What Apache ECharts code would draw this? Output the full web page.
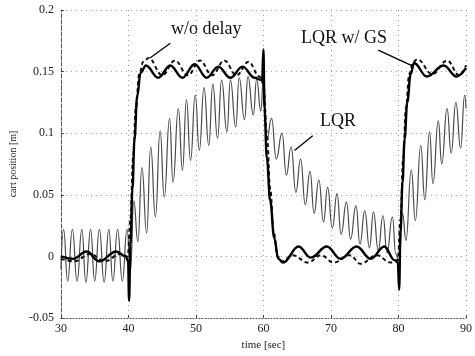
<!DOCTYPE html>
<html><head><meta charset="utf-8">
<script src="https://cdn.jsdelivr.net/npm/echarts@6/dist/echarts.min.js"></script>
<style>html,body{margin:0;padding:0;background:#fff}#c{width:475px;height:356px}</style>
</head><body><div id="c"></div>
<script>
// ---- data ----
const lqrT = [30.0,30.4,31.0,31.7,32.4,33.1,33.7,34.4,35.0,35.7,36.4,37.1,37.7,38.4,39.1,39.8,
  40.3,40.8,41.4,42.0,42.7,43.3,44.0,44.7,45.3,46.1,46.6,47.4,48.0,48.6,49.2,49.9,50.5,51.2,51.9,52.5,53.2,53.8,54.6,55.1,55.9,56.4,57.2,57.7,58.5,59.0,59.6,60.0,
  60.5,61.2,61.9,62.75,63.4,64.1,64.8,65.5,66.2,66.9,67.5,68.2,68.9,69.5,70.2,70.9,71.5,72.3,72.9,73.7,74.3,75.0,75.7,76.3,77.0,77.7,78.3,79.1,79.6,
  80.1,80.6,81.1,81.9,82.5,83.3,83.9,84.6,85.1,85.9,86.4,87.2,87.8,88.5,89.2,89.8,90.0];
const lqrV = [-0.010,0.022,-0.020,0.022,-0.020,0.022,-0.021,0.022,-0.020,0.022,-0.021,0.022,-0.020,0.022,-0.020,0.022,
  -0.012,0.045,0.012,0.072,0.019,0.089,0.032,0.102,0.048,0.112,0.060,0.120,0.070,0.127,0.078,0.131,0.086,0.137,0.090,0.140,0.096,0.143,0.101,0.143,0.105,0.145,0.111,0.146,0.115,0.144,0.118,0.145,
  0.095,0.112,0.079,0.100,0.066,0.089,0.052,0.079,0.042,0.069,0.035,0.062,0.028,0.056,0.023,0.051,0.018,0.044,0.014,0.041,0.010,0.037,0.007,0.036,0.005,0.033,0.003,0.032,0.002,
  -0.004,0.035,0.013,0.070,0.029,0.090,0.046,0.101,0.059,0.110,0.075,0.120,0.084,0.125,0.088,0.131,0.120];

const gsT = [30.0,31.8,33.8,35.7,38.2,39.6,39.95,40.1,40.3,40.6,40.9,41.3,41.8,42.6,44.4,46.2,48.0,49.8,51.6,53.3,55.1,56.9,58.7,59.8,60.0,
  60.15,60.5,61.0,61.6,62.2,62.9,65.2,67.0,69.4,71.4,73.8,75.9,77.9,79.4,79.9,80.1,
  80.3,80.6,80.9,81.3,81.8,82.3,84.2,86.7,88.6,90.0];
const gsV = [0.000,-0.002,0.004,-0.004,0.004,0.000,-0.004,-0.036,0.010,0.055,0.095,0.130,0.149,0.155,0.145,0.155,0.145,0.156,0.145,0.154,0.145,0.154,0.145,0.143,0.168,
  0.120,0.080,0.045,0.015,-0.002,-0.005,0.008,-0.001,0.008,-0.002,0.008,-0.002,0.008,-0.003,-0.005,-0.027,
  0.020,0.060,0.095,0.125,0.148,0.157,0.146,0.155,0.146,0.153];

const ndT = [30.0,32.0,34.3,36.5,38.8,39.9,40.3,40.7,41.1,41.6,42.2,43.0,45.0,46.9,48.8,50.6,52.4,54.2,56.0,57.8,59.4,60.0,
  60.5,61.0,61.5,62.1,62.8,64.3,66.6,68.5,70.4,72.8,74.4,76.8,78.8,79.9,
  80.3,80.7,81.1,81.6,82.2,82.8,85.0,87.2,89.0,90.0];
const ndV = [-0.002,-0.004,0.002,-0.004,0.002,0.000,0.030,0.080,0.120,0.148,0.158,0.161,0.147,0.159,0.147,0.159,0.147,0.159,0.147,0.158,0.146,0.140,
  0.100,0.055,0.020,0.000,-0.004,0.001,-0.005,0.001,-0.005,0.001,-0.006,0.001,-0.005,-0.003,
  0.030,0.080,0.120,0.148,0.158,0.160,0.148,0.159,0.147,0.155];

const xTicks = [30,40,50,60,70,80,90];
const yTicks = ['-0.05','0','0.05','0.1','0.15','0.2'];

const annTexts = ['w/o delay','LQR w/ GS','LQR'];
const annLines = [ [[46.2,0.173],[43.2,0.161]], [[77.0,0.1675],[82.3,0.154]], [[67.3,0.098],[64.6,0.086]] ];

const zip = (t,v) => t.map((x,i)=>[x,v[i]]);
const serif = '"Liberation Serif","DejaVu Serif",serif';

const chart = echarts.init(document.getElementById('c'), null, {renderer:'canvas'});
chart.setOption({
  animation:false,
  backgroundColor:'#fff',
  grid:{left:59,right:4,top:10,bottom:38},
  xAxis:{type:'value',min:30,max:90,interval:10,
    name:'time [sec]',nameLocation:'middle',nameGap:21,
    nameTextStyle:{fontFamily:serif,fontSize:11,color:'#222'},
    axisLine:{show:true,onZero:false,lineStyle:{color:'#555',type:[1,2],width:1}},
    axisTick:{show:true,inside:true,length:3,lineStyle:{color:'#444'}},
    axisLabel:{fontFamily:serif,fontSize:12,color:'#222',margin:5,
      formatter:v=>xTicks.includes(v)?String(v):''},
    splitLine:{show:true,lineStyle:{color:'#999',type:[1,4],width:1}}},
  yAxis:{type:'value',min:-0.05,max:0.2,interval:0.05,
    name:'cart position [m]',nameLocation:'middle',nameGap:42,
    nameTextStyle:{fontFamily:serif,fontSize:10,color:'#222'},
    axisLine:{show:true,onZero:false,lineStyle:{color:'#555',type:[4,2],width:1}},
    axisTick:{show:true,inside:true,length:3,lineStyle:{color:'#444'}},
    axisLabel:{fontFamily:serif,fontSize:12,color:'#222',margin:7,
      formatter:v=>{const s=String(Math.round(v*100)/100);return yTicks.includes(s)?s:'';}},
    splitLine:{show:true,lineStyle:{color:'#999',type:[1,4],width:1}}},
  series:[
    {name:'LQR',type:'line',data:zip(lqrT,lqrV),showSymbol:false,smooth:0.5,smoothMonotone:'x',
      lineStyle:{color:'#4a4a4a',width:1.2},z:2},
    {name:'w/o delay',type:'line',data:zip(ndT,ndV),showSymbol:false,smooth:0.4,smoothMonotone:'x',
      lineStyle:{color:'#111',width:2,type:[4,3]},z:3},
    {name:'LQR w/ GS',type:'line',data:zip(gsT,gsV),showSymbol:false,smooth:0.4,smoothMonotone:'x',
      lineStyle:{color:'#000',width:2.4},z:4,
      markLine:{silent:true,symbol:['none','none'],label:{show:false},
        lineStyle:{color:'#000',width:1.3,type:'solid'},
        data:annLines.map(l=>[{coord:l[0]},{coord:l[1]}])}}
  ],
  graphic:[
    {type:'text',left:171,top:20,style:{text:annTexts[0],font:'18px '+serif,fill:'#111'}},
    {type:'text',left:301,top:29,style:{text:annTexts[1],font:'18px '+serif,fill:'#111'}},
    {type:'text',left:320,top:112,style:{text:annTexts[2],font:'18px '+serif,fill:'#111'}}
  ]
});
</script></body></html>
